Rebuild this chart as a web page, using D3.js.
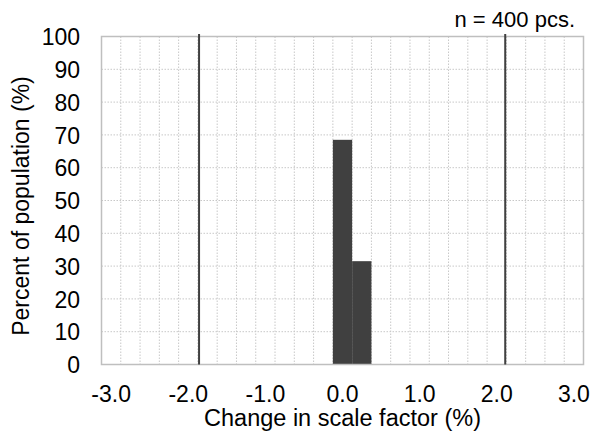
<!DOCTYPE html>
<html>
<head>
<meta charset="utf-8">
<script src="https://cdn.jsdelivr.net/npm/d3@7/dist/d3.min.js"></script>
<style>
  html, body { margin: 0; padding: 0; background: #fff; }
  svg { display: block; }
  text { font-family: "Liberation Sans", Arial, sans-serif; fill: #000; }
</style>
</head>
<body>
<svg id="chart" width="593" height="437"></svg>
<script>
// ---- data ----
const binCenters = ["-3.00","-2.75","-2.50","-2.25","-2.00","-1.75","-1.50","-1.25","-1.00","-0.75","-0.50","-0.25","0.00","0.25","0.50","0.75","1.00","1.25","1.50","1.75","2.00","2.25","2.50","2.75","3.00"];
const percentValues = [0,0,0,0,0,0,0,0,0,0,0,0,68.5,31.5,0,0,0,0,0,0,0,0,0,0,0];
const xTickCats = ["-3.00","-2.00","-1.00","0.00","1.00","2.00","3.00"];
const xTickLabels = ["-3.0","-2.0","-1.0","0.0","1.0","2.0","3.0"];
const yTicks = [0,10,20,30,40,50,60,70,80,90,100];
const limitLines = [-1.86, 2.11];
const sampleNote = "n = 400 pcs.";
const xTitle = "Change in scale factor (%)";
const yTitle = "Percent of population (%)";

// ---- layout ----
const L = 101.5, R = 583.5, T = 36.5, B = 364.5;
const svg = d3.select("#chart");

const xBand = d3.scaleBand().domain(binCenters).range([L, R]).padding(0);
const xLin = d3.scaleLinear().domain([-3.125, 3.125]).range([L, R]);
const y = d3.scaleLinear().domain([0, 100]).range([B, T]);

// grid
const grid = svg.append("g");
grid.selectAll("line.v").data(binCenters.slice(1)).join("line")
  .attr("x1", d => xBand(d)).attr("x2", d => xBand(d))
  .attr("y1", T).attr("y2", B)
  .attr("stroke", "#c8c8c8").attr("stroke-width", 1).attr("stroke-dasharray", "1.5,1.5");
grid.selectAll("line.h").data(yTicks.slice(1, -1)).join("line")
  .attr("x1", L).attr("x2", R)
  .attr("y1", d => y(d)).attr("y2", d => y(d))
  .attr("stroke", "#c8c8c8").attr("stroke-width", 1).attr("stroke-dasharray", "1.5,1.5");

// bars
svg.append("g").selectAll("rect").data(binCenters.map((c, i) => ({c, v: percentValues[i]})).filter(d => d.v > 0))
  .join("rect")
  .attr("x", d => xBand(d.c)).attr("width", xBand.bandwidth())
  .attr("y", d => y(d.v)).attr("height", d => B - y(d.v))
  .attr("fill", "#404040");

// border
svg.append("rect").attr("x", L).attr("y", T).attr("width", R - L).attr("height", B - T)
  .attr("fill", "none").attr("stroke", "#bfbfbf").attr("stroke-width", 1.5);

// limit lines
svg.append("g").selectAll("line").data(limitLines).join("line")
  .attr("x1", d => xLin(d)).attr("x2", d => xLin(d))
  .attr("y1", 34).attr("y2", B)
  .attr("stroke", "#404040").attr("stroke-width", 2);

// x axis
const xAxis = svg.append("g").attr("transform", `translate(0,${B})`)
  .call(d3.axisBottom(xBand).tickValues(xTickCats)
    .tickFormat(d => xTickLabels[xTickCats.indexOf(d)]).tickSize(0));
xAxis.select(".domain").remove();
xAxis.selectAll("text").attr("y", 37.2).attr("dy", 0)
  .style("font-size", "23px").style("font-family", "Liberation Sans, Arial, sans-serif").attr("fill", "#000");

// y axis
const yAxis = svg.append("g").attr("transform", `translate(${L},0)`)
  .call(d3.axisLeft(y).tickValues(yTicks).tickSize(0).tickPadding(21.5));
yAxis.select(".domain").remove();
yAxis.selectAll("text").attr("dy", "0.36em")
  .style("font-size", "23px").style("font-family", "Liberation Sans, Arial, sans-serif").attr("fill", "#000");

// titles
svg.append("text").attr("x", (206.7 + 478.3) / 2).attr("y", 425.5)
  .attr("text-anchor", "middle").style("font-size", "23.5px").text(xTitle);
svg.append("text").attr("transform", `translate(28.5,206) rotate(-90)`)
  .attr("text-anchor", "middle").style("font-size", "23px").text(yTitle);
svg.append("text").attr("x", 575).attr("y", 26.5)
  .attr("text-anchor", "end").style("font-size", "22px").text(sampleNote);
</script>
</body>
</html>
